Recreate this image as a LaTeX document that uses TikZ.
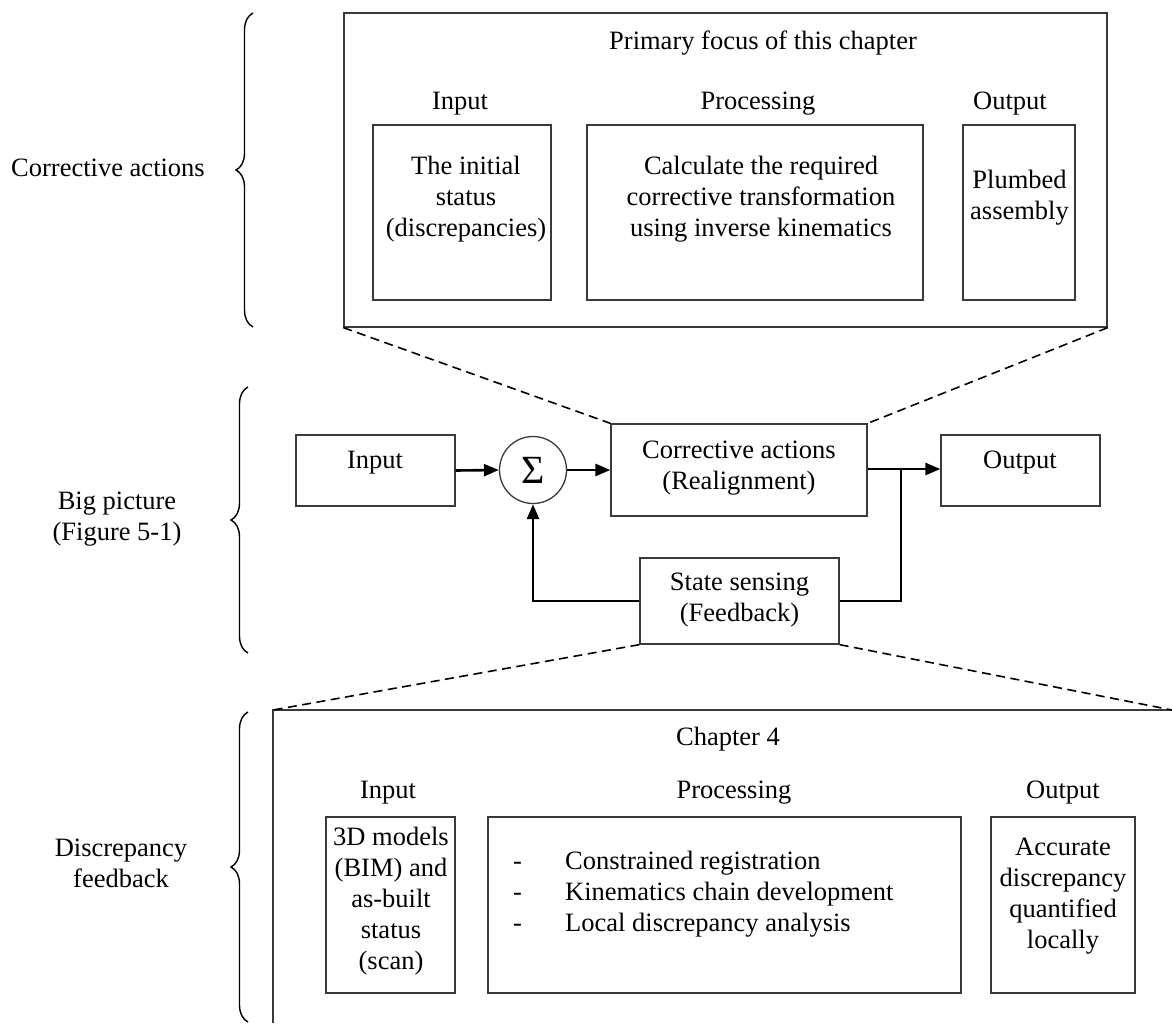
\documentclass[tikz,border=0pt]{standalone}
\usepackage{fontspec}
\setmainfont{Liberation Serif}
\usetikzlibrary{arrows.meta,decorations.pathreplacing}
\definecolor{framegray}{HTML}{3A3A3A}
\begin{document}
\begin{tikzpicture}[x=1pt,y=-1pt,
  font=\fontsize{26.5}{31}\selectfont,
  box/.style={draw=framegray, line width=1.3pt, inner sep=0pt, rectangle},
  txt/.style={inner sep=0pt, align=center},
  link/.style={line width=2.6pt, line join=miter},
  arrowlink/.style={link, -{Triangle[length=15pt,width=12pt]}},
  zoomline/.style={line width=1.6pt, dash pattern=on 9pt off 5.5pt},
  bracket/.style={decorate, decoration={brace, amplitude=17pt}, line width=1.4pt},
]
\useasboundingbox (0,0) rectangle (1172,1023);

% ---------- upper panel: primary focus ----------
\node[box, minimum width=763pt, minimum height=314pt] (topframe) at (725.5,170) {};
\node[txt] (toptitle) at (763,43) {Primary focus of this chapter};
\node[txt] (inlabA) at (460,104) {Input};
\node[txt] (proclabA) at (758,104) {Processing};
\node[txt] (outlabA) at (1010,104) {Output};
\node[box, minimum width=178pt, minimum height=175pt] (inA) at (462,212.5) {};
\node[box, minimum width=336pt, minimum height=175pt] (procA) at (755,212.5) {};
\node[box, minimum width=112pt, minimum height=175pt] (outA) at (1019,212.5) {};
\node[txt] (inAtext) at (466,199) {The initial\\status\\(discrepancies)};
\node[txt] (procAtext) at (761,199) {Calculate the required\\corrective transformation\\using inverse kinematics};
\node[txt] (outAtext) at (1019.5,197.5) {Plumbed\\assembly};

% ---------- middle: control loop ----------
\node[box, minimum width=159pt, minimum height=71pt] (inM) at (375.5,470.5) {};
\node[txt] (inMtext) at (375,463) {Input};
\node[circle, draw=framegray, line width=1.3pt, minimum size=67pt, inner sep=0pt,
      font=\fontsize{40}{40}\selectfont] (sum) at (533,470) {Σ};
\node[box, minimum width=256pt, minimum height=92pt] (corrM) at (739,470) {};
\node[txt] (corrMtext) at (739,468.5) {Corrective actions\\(Realignment)};
\node[box, minimum width=159pt, minimum height=71pt] (outM) at (1020.5,470.5) {};
\node[txt] (outMtext) at (1020,463) {Output};
\node[box, minimum width=199pt, minimum height=86pt] (stateM) at (739.5,601) {};
\node[txt] (stateMtext) at (739.5,600) {State sensing\\(Feedback)};
\coordinate (tap) at (901,469);

\draw[arrowlink] (inM.east) -- (sum.west);
\draw[arrowlink] (sum.east) -- (corrM.west);
\draw[arrowlink] (corrM.east |- tap) -- (outM.west |- tap);
\draw[link] (tap) |- (stateM.east);
\draw[arrowlink] (stateM.west) -| (sum.south);

% ---------- lower panel: chapter 4 ----------
\coordinate (botNW) at (273,710);
\coordinate (botNE) at (1172,710);
\coordinate (botSW) at (273,1023);
\draw[draw=framegray, line width=1.3pt] (botNE) -- (botNW) -- (botSW);
\node[txt] (bottitle) at (728,739) {Chapter 4};
\node[txt] (inlabB) at (388,793) {Input};
\node[txt] (proclabB) at (734,793) {Processing};
\node[txt] (outlabB) at (1063,793) {Output};
\node[box, minimum width=129pt, minimum height=176pt] (inB) at (390.5,905) {};
\node[box, minimum width=473pt, minimum height=176pt] (procB) at (724.5,905) {};
\node[box, minimum width=144pt, minimum height=176pt] (outB) at (1063,905) {};
\node[txt] (inBtext) at (391,901) {3D models\\(BIM) and\\as-built\\status\\(scan)};
\node[inner sep=0pt, align=left, anchor=west] (procBtext) at (513,894)
  {\makebox[52pt][l]{-}Constrained registration\\
   \makebox[52pt][l]{-}Kinematics chain development\\
   \makebox[52pt][l]{-}Local discrepancy analysis};
\node[txt] (outBtext) at (1063,896) {Accurate\\discrepancy\\quantified\\locally};

% ---------- zoom lines ----------
\draw[zoomline] (topframe.south west) -- (corrM.north west);
\draw[zoomline] (topframe.south east) -- (corrM.north east);
\draw[zoomline] (stateM.south west) -- (botNW);
\draw[zoomline] (stateM.south east) -- (botNE);

% ---------- side braces and labels ----------
\draw[bracket] (253,327) -- (253,13);
\draw[bracket] (248,653) -- (248,387);
\draw[bracket] (248,1022) -- (248,712);
\node[txt] (labA) at (108,168) {Corrective actions};
\node[txt] (labM) at (117,519) {Big picture\\(Figure 5-1)};
\node[txt] (labB) at (121,863) {Discrepancy\\feedback};
\end{tikzpicture}
\end{document}
